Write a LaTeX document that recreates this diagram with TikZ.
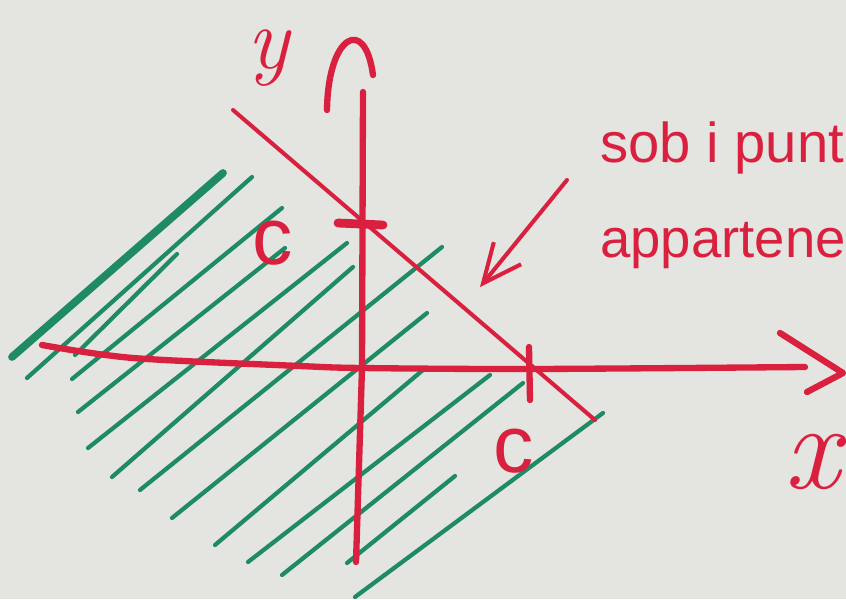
\documentclass[tikz,border=0pt]{standalone}
\usepackage{fontspec}
\setmainfont{Liberation Sans}
\newfontfamily\varfont{Latin Modern Roman}
\usetikzlibrary{arrows.meta}
\definecolor{MarkerRed}{HTML}{D9213F}
\definecolor{MarkerGreen}{HTML}{1F8A66}
\definecolor{Board}{HTML}{E4E4E0}

\begin{document}
\begin{tikzpicture}[
    x=0.02cm, y=-0.02cm,
    line cap=round, line join=round,
    redpen/.style={draw=MarkerRed, line width=3.6pt},
    thinpen/.style={draw=MarkerRed, line width=2.3pt},
    hatch/.style={draw=MarkerGreen, line width=2.4pt},
    handtext/.style={text=MarkerRed, inner sep=0pt}
  ]
    \useasboundingbox (0,0) rectangle (846,599);
    \fill[Board] (0,0) rectangle (846,599);

    % green hatching of the half plane
    \foreach \xa/\ya/\xb/\yb in {27/378/252/177, 75/355/177/254, 72/379/282/208,
        78/412/285/248, 88/448/347/243, 112/477/353/267, 140/490/442/247,
        172/518/427/313, 215/545/423/370, 248/562/490/375, 282/575/523/383,
        347/563/455/476, 355/597/603/413}
      \draw[hatch] (\xa,\ya) -- (\xb,\yb);
    \draw[hatch, line width=4.4pt] (12,357) -- (223,173);

    % axes
    \draw[redpen] plot[smooth] coordinates {(42,345) (133,358) (300,366) (362,368) (530,369) (805,367)};
    \draw[redpen] (363,92) -- (362,368) -- (356,562);
    \draw[redpen] (780,333) -- (843,373) -- (807,392);
    \draw[redpen] (327,110) .. controls (328,35) and (365,15) .. (373,75);

    % the line and its intercepts
    \draw[thinpen] (233,110) -- (595,420);
    \draw[redpen, line width=5pt] (338,223) -- (383,225);
    \draw[redpen] (529,347) -- (530,400);

    \node[handtext, font=\fontsize{50}{50}\selectfont\varfont\itshape] (ylabel) at (268,58) {y};
    \node[handtext, font=\fontsize{70}{70}\selectfont\varfont\itshape] (xlabel) at (812,462) {x};
    \node[handtext, font=\fontsize{46}{46}\selectfont] (cy) at (273,243) {c};
    \node[handtext, font=\fontsize{46}{46}\selectfont] (cx) at (514,451) {c};

    % note
    \node[handtext, anchor=base west, font=\fontsize{32}{32}\selectfont] (note) at (600,162) {sob i punt};
    \node[handtext, anchor=base west, font=\fontsize{31}{31}\selectfont] (notetwo) at (600,257) {appartene};
    \coordinate (tip) at (480,287);
    \draw[thinpen, -{Straight Barb[length=22pt, width=20pt]}] (567,180) -- (tip);
  \end{tikzpicture}
\end{document}
